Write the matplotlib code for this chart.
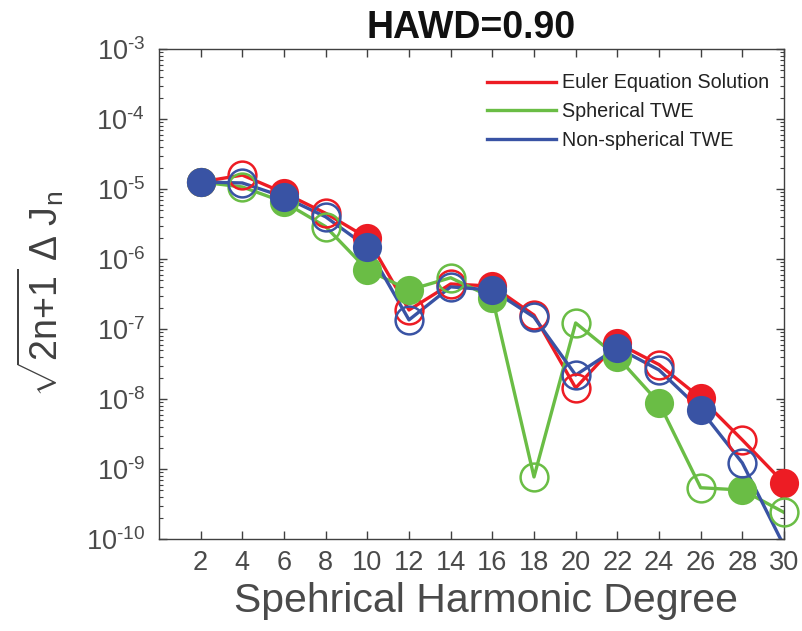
import numpy as np
import matplotlib
matplotlib.use("Agg")
import matplotlib.pyplot as plt
from matplotlib.ticker import LogLocator, NullFormatter, FuncFormatter

# Degree-wise differences; sign kept so negative values get open markers
degree = np.arange(2, 31, 2)

euler = np.array([1.26e-5, -1.58e-5, 8.8e-6, -4.5e-6, 2.0e-6, -1.87e-7, -4.4e-7,
                  4.1e-7, -1.58e-7, -1.44e-8, 6.3e-8, -3.1e-8, 1.03e-8, -2.6e-9,
                  6.3e-10])
sph_twe = np.array([1.26e-5, -1.07e-5, 6.5e-6, -2.9e-6, 7.0e-7, 3.6e-7, -5.4e-7,
                    2.8e-7, -7.7e-10, -1.22e-7, 4.0e-8, 8.8e-9, -5.4e-10, 5.0e-10,
                    -2.4e-10])
nonsph_twe = np.array([1.26e-5, -1.22e-5, 7.7e-6, -4.0e-6, 1.48e-6, -1.35e-7, -4.0e-7,
                       3.6e-7, -1.48e-7, -2.2e-8, 5.4e-8, -2.6e-8, 7.0e-9, -1.22e-9,
                       8e-11])

series = [("Euler Equation Solution", euler, "#ED1C24"),
          ("Spherical TWE", sph_twe, "#6ABD45"),
          ("Non-spherical TWE", nonsph_twe, "#3953A4")]

ymin, ymax = 1e-10, 1e-3

plt.rcParams["font.family"] = ["Liberation Sans", "DejaVu Sans"]
plt.rcParams["mathtext.fontset"] = "custom"
plt.rcParams["mathtext.rm"] = "Liberation Sans"
plt.rcParams["mathtext.it"] = "Liberation Sans"
plt.rcParams["mathtext.default"] = "regular"
plt.rcParams["axes.unicode_minus"] = False

fig = plt.figure(figsize=(8.03, 6.31), dpi=100)
ax = fig.add_axes([159 / 803, 92 / 631, 625 / 803, 490 / 631])

for name, vals, col in series:
    mag = np.abs(vals)
    ax.plot(degree, mag, "-", color=col, lw=2.4, label=name, zorder=2)
    # markers only for points inside the axis range, drawn whole at the edge
    inside = (mag >= ymin) & (mag <= ymax)
    pos = inside & (vals > 0)
    neg = inside & (vals < 0)
    ax.plot(degree[pos], mag[pos], "o", ms=21, mfc=col, mec=col, mew=0,
            zorder=3, clip_on=False)
    ax.plot(degree[neg], mag[neg], "o", ms=20, mfc="none", mec=col, mew=1.8,
            zorder=3, clip_on=False)

ax.set_yscale("log")
ax.set_xlim(0, 30)
ax.set_ylim(ymin, ymax)
ax.set_xticks(degree)
ax.yaxis.set_major_locator(LogLocator(base=10, numticks=20))
ax.yaxis.set_minor_locator(LogLocator(base=10, subs=np.arange(2, 10), numticks=20))
ax.yaxis.set_minor_formatter(NullFormatter())
# plain hyphen in the exponent
ax.yaxis.set_major_formatter(FuncFormatter(
    lambda v, p: r"$10^{\text{-}%d}$" % round(-np.log10(v))))

axcol = "#404040"
for sp in ax.spines.values():
    sp.set_color(axcol)
    sp.set_linewidth(1.0)
ax.tick_params(which="both", direction="in", top=True, right=True,
               color=axcol, labelcolor="#4a4a4a")
ax.tick_params(which="major", length=6, width=1.0, labelsize=19.5)
ax.tick_params(axis="x", which="major", pad=8)
ax.tick_params(axis="y", which="major", pad=10)
ax.tick_params(which="minor", length=3, width=0.8)

ax.set_title("HAWD=0.90", fontsize=27, fontweight="bold", color="#111111", pad=8)
ax.set_xlabel("Spehrical Harmonic Degree", fontsize=29.5, color="#4a4a4a")
ax.xaxis.set_label_coords(0.523, -0.087)
ax.set_ylabel(r"$\sqrt{2n{+}1}\ \Delta\ J_n$", fontsize=27, color="#404040", labelpad=14)

leg = ax.legend(loc="upper left", bbox_to_anchor=(0.525, 0.95), frameon=False,
                fontsize=14.2, handlelength=3.5, handletextpad=0.3,
                labelspacing=0.5, borderpad=0, borderaxespad=0)
for t in leg.get_texts():
    t.set_color("#222222")

fig.savefig("out.png", dpi=100)
